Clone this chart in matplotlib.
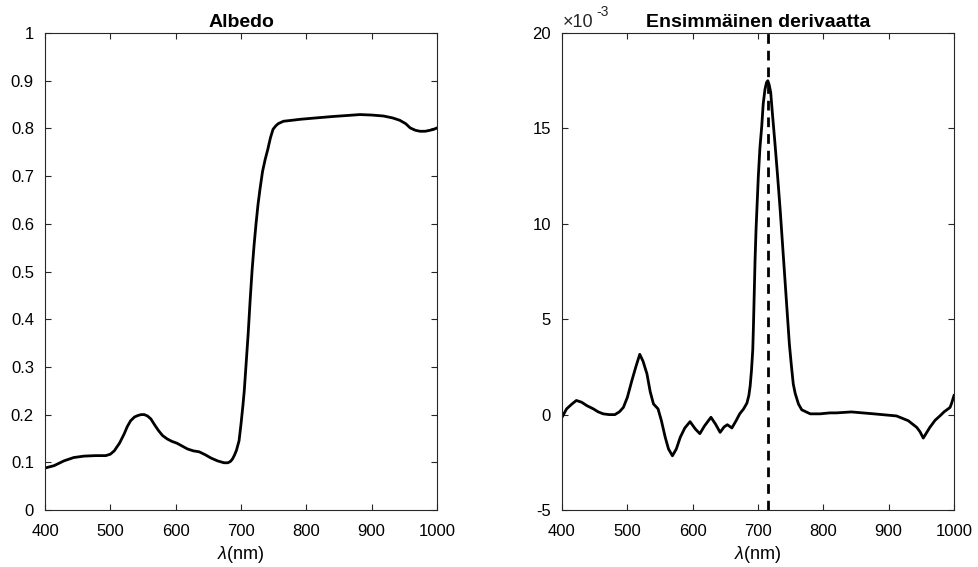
import matplotlib
matplotlib.use("Agg")
import matplotlib.pyplot as plt
import numpy as np

plt.rcParams['font.family'] = ['Liberation Sans', 'DejaVu Sans']
plt.rcParams['mathtext.fontset'] = 'custom'
plt.rcParams['mathtext.it'] = 'Liberation Sans:italic'
plt.rcParams['axes.unicode_minus'] = False

# albedo
alb_nm = [400, 414, 429, 444, 460, 477, 493, 500, 506, 514, 521, 526, 531, 537, 542, 547, 552, 557,
          562, 568, 574, 580, 587, 594, 602, 610, 618, 627, 636, 645, 654, 664, 674, 680, 684,
          687, 690, 693, 697, 700, 703, 705, 708, 711, 714, 717, 720, 723, 726, 729, 733, 737,
          741, 745, 749, 753, 757, 765, 778, 790, 815, 841, 862, 882, 900, 918, 932, 943, 952,
          959, 967, 974, 982, 989, 995, 1000]
alb_val = [0.088, 0.093, 0.103, 0.110, 0.113, 0.114, 0.114, 0.117, 0.124, 0.140, 0.159, 0.175, 0.187, 0.195, 0.198, 0.200, 0.200, 0.197,
           0.191, 0.178, 0.166, 0.156, 0.149, 0.144, 0.140, 0.134, 0.128, 0.124, 0.122, 0.116, 0.109, 0.103, 0.099, 0.099, 0.102,
           0.107, 0.115, 0.125, 0.145, 0.18, 0.22, 0.25, 0.31, 0.37, 0.44, 0.503, 0.555, 0.60, 0.64, 0.672, 0.71, 0.735,
           0.756, 0.780, 0.798, 0.805, 0.810, 0.815, 0.817, 0.819, 0.822, 0.825, 0.827, 0.829, 0.828, 0.826, 0.822, 0.817, 0.810,
           0.801, 0.796, 0.794, 0.794, 0.796, 0.798, 0.801]

# first derivative (x1e-3)
der_nm = [400, 407, 415, 422, 430, 438, 448, 455, 463, 472, 481, 488, 494, 500, 507, 513, 519, 524, 530,
          535, 540, 547, 552, 558, 563, 569, 575, 581, 588, 596, 604, 611, 618, 628, 635, 642, 648, 653, 656,
          660, 666, 672, 678, 683, 686, 688, 690, 692, 693, 695.5, 697, 700.5, 703, 705.7, 708, 710.7, 713, 715,
          717, 719.4, 722, 726, 730, 734, 737, 741, 744, 748, 751, 754, 757, 762, 767, 775, 780, 795,
          810, 820, 843, 877, 912, 930, 943, 948, 953, 958, 963, 971, 979, 985, 991, 994, 996, 1000]
der_val = [-0.14, 0.3, 0.55, 0.74, 0.65, 0.47, 0.3, 0.15, 0.04, 0.0, 0.0, 0.15, 0.38, 0.9, 1.79, 2.5, 3.16, 2.8, 2.14,
           1.2, 0.56, 0.3, -0.3, -1.19, -1.8, -2.16, -1.8, -1.19, -0.7, -0.37, -0.75, -1.0, -0.6, -0.14, -0.5, -0.93, -0.65, -0.53, -0.6,
           -0.7, -0.35, 0.04, 0.3, 0.6, 1.0, 1.5, 2.3, 3.4, 4.6, 8.1, 9.7, 12.5, 14.0, 15.1, 16.3, 17.05, 17.4, 17.5,
           17.3, 16.9, 15.8, 14.2, 12.5, 10.7, 9.2, 7.2, 5.7, 3.7, 2.6, 1.6, 1.1, 0.55, 0.25, 0.12, 0.04, 0.04,
           0.09, 0.09, 0.14, 0.04, -0.07, -0.32, -0.67, -0.9, -1.23, -0.95, -0.67, -0.3, -0.05, 0.15, 0.3, 0.38, 0.56, 1.0]

peak_nm = 715

gray = '#262626'


def style(ax):
    ax.tick_params(direction='in', top=True, right=True, labelsize=12,
                   colors=gray, labelcolor='black', length=4, width=0.8)
    ax.tick_params(axis='x', pad=10)
    ax.tick_params(axis='y', pad=8)
    for s in ax.spines.values():
        s.set_color(gray)
        s.set_linewidth(0.8)
    ax.set_xlim(400, 1000)
    ax.set_xticks([400, 500, 600, 700, 800, 900, 1000])
    ax.set_xlabel(r'$\lambda$(nm)', fontsize=13, labelpad=4)


fig = plt.figure(figsize=(9.79, 5.67), dpi=100)
ax1 = fig.add_axes([45/979, (567-510)/567, 392/979, 477/567])
ax2 = fig.add_axes([562/979, (567-510)/567, 392/979, 477/567])

ax1.plot(alb_nm, alb_val, color='black', lw=2, solid_joinstyle='round')
ax1.set_ylim(0, 1)
ax1.set_yticks(np.arange(0, 1.01, 0.1))
ax1.set_yticklabels(['0', '0.1', '0.2', '0.3', '0.4', '0.5', '0.6', '0.7', '0.8', '0.9', '1'])
ax1.set_title('Albedo', fontsize=14, fontweight='bold', pad=4)
style(ax1)

ax2.plot(der_nm, der_val, color='black', lw=2, solid_joinstyle='round')
ax2.axvline(peak_nm, color='black', lw=2, ls=(0, (3.5, 2.5)))
ax2.set_ylim(-5, 20)
ax2.set_yticks([-5, 0, 5, 10, 15, 20])
ax2.set_yticklabels(['-5', '0', '5', '10', '15', '20'])
ax2.set_title('Ensimmäinen derivaatta', fontsize=14, fontweight='bold', pad=4)
ax2.text(0.002, 1.004, '×10', transform=ax2.transAxes, fontsize=13,
         ha='left', va='bottom', color=gray)
ax2.text(0.088, 1.03, '-3', transform=ax2.transAxes, fontsize=10,
         ha='left', va='bottom', color=gray)
style(ax2)

fig.savefig('out.png', dpi=100)
